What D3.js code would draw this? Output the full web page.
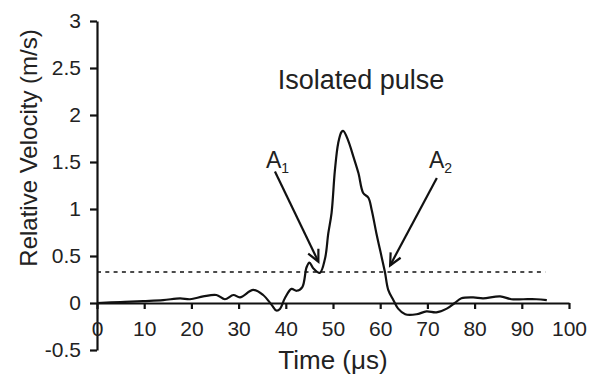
<!DOCTYPE html>
<html>
<head>
<meta charset="utf-8">
<script src="https://cdn.jsdelivr.net/npm/d3@7"></script>
<style>
  html, body { margin: 0; padding: 0; background: #fff; }
  svg { display: block; font-family: "Liberation Sans", Arial, Helvetica, sans-serif; }
</style>
</head>
<body>
<svg id="chart" width="589" height="375"></svg>
<script>
// ---- data ----
const timeUs = [0, 5, 9.8, 14, 17.6, 19.7, 22.5, 25.3, 27.1, 28.9, 30.3, 33.1, 35.2, 37, 38, 38.8, 39.8, 41.2, 42.3, 43.5, 44.4, 45.0, 45.8, 47.2, 48.3, 49.0, 49.7, 50.4, 51.1, 51.8, 52.2, 53.2, 54.3, 55.4, 56.4, 57.5, 58.2, 59.2, 60.3, 61.0, 61.7, 62.8, 63.8, 65.3, 67.7, 69.8, 71.9, 74.1, 75.8, 77.2, 79.7, 81.8, 85.4, 87.8, 90.3, 93.1, 95.3];
const velocity = [0, 0.01, 0.02, 0.03, 0.05, 0.04, 0.07, 0.085, 0.04, 0.085, 0.06, 0.14, 0.085, -0.02, -0.08, -0.06, 0.05, 0.15, 0.13, 0.17, 0.38, 0.43, 0.37, 0.32, 0.47, 0.74, 0.96, 1.41, 1.70, 1.82, 1.83, 1.73, 1.56, 1.38, 1.17, 1.12, 0.99, 0.74, 0.49, 0.33, 0.14, 0.03, -0.06, -0.12, -0.12, -0.09, -0.10, -0.06, 0, 0.05, 0.06, 0.05, 0.07, 0.04, 0.04, 0.04, 0.03];
const threshold = 0.33;
const thresholdRange = [0, 95];
const xTicks = [0, 10, 20, 30, 40, 50, 60, 70, 80, 90, 100];
const yTicks = [-0.5, 0, 0.5, 1, 1.5, 2, 2.5, 3];
const title = "Isolated pulse";
const xLabel = "Time (μs)";
const yLabel = "Relative Velocity (m/s)";
// annotations: label, sub, arrow start (t, v), arrow end (t, v)
const annLabels = ["A", "A"];
const annSubs = ["1", "2"];
const annStart = [[37.7, 1.40], [72.0, 1.33]];
const annEnd = [[46.9, 0.44], [62.1, 0.40]];

// ---- chart ----
const svg = d3.select("#chart");
const x = d3.scaleLinear().domain([0, 100]).range([97, 569]);
const y = d3.scaleLinear().domain([-0.5, 3]).range([350, 21]);
const ink = "#111";

// y axis
const yAxis = svg.append("g").attr("transform", `translate(${x(0)},0)`)
  .call(d3.axisLeft(y).tickValues(yTicks).tickSize(7).tickSizeOuter(0).tickPadding(9)
        .tickFormat(d => String(d)));
// x axis at y = 0
const xAxis = svg.append("g").attr("transform", `translate(0,${y(0)})`)
  .call(d3.axisBottom(x).tickValues(xTicks).tickSize(6).tickSizeOuter(0).tickPadding(8)
        .tickFormat(d => String(d)));
[yAxis, xAxis].forEach(g => {
  g.selectAll("path.domain").attr("stroke", ink).attr("stroke-width", 2.2);
  g.selectAll(".tick line").attr("stroke", ink).attr("stroke-width", 2.2);
  g.selectAll(".tick text").attr("fill", "#222").style("font-size", "21px")
    .style("font-family", "'Liberation Sans', Arial, sans-serif");
});
xAxis.selectAll(".tick text").attr("dy", "0.9em");

// dashed threshold line
svg.append("line")
  .attr("x1", x(thresholdRange[0])).attr("x2", x(thresholdRange[1]))
  .attr("y1", y(threshold)).attr("y2", y(threshold))
  .attr("stroke", ink).attr("stroke-width", 1.6).attr("stroke-dasharray", "4,4.3");

// data line
const pts = timeUs.map((t, i) => [t, velocity[i]]);
svg.append("path").datum(pts)
  .attr("fill", "none").attr("stroke", ink).attr("stroke-width", 2.2)
  .attr("stroke-linejoin", "round")
  .attr("d", d3.line().x(d => x(d[0])).y(d => y(d[1])).curve(d3.curveCatmullRom.alpha(0.5)));

// arrows
annStart.forEach((s, i) => {
  const e = annEnd[i];
  const x1 = x(s[0]), y1 = y(s[1]), x2 = x(e[0]), y2 = y(e[1]);
  svg.append("line").attr("x1", x1).attr("y1", y1).attr("x2", x2).attr("y2", y2)
    .attr("stroke", ink).attr("stroke-width", 2.2);
  const ang = Math.atan2(y2 - y1, x2 - x1);
  const L = 13, spread = 0.45;
  const p1 = [x2 - L * Math.cos(ang - spread), y2 - L * Math.sin(ang - spread)];
  const p2 = [x2 - L * Math.cos(ang + spread), y2 - L * Math.sin(ang + spread)];
  svg.append("path")
    .attr("d", `M${p1[0]},${p1[1]}L${x2},${y2}L${p2[0]},${p2[1]}`)
    .attr("fill", "none").attr("stroke", ink).attr("stroke-width", 2.2)
    .attr("stroke-linejoin", "miter");
  // label
  const t = svg.append("text")
    .attr("x", i === 0 ? 266 : 429).attr("y", 168)
    .attr("fill", "#222").style("font-size", "23px");
  t.append("tspan").text(annLabels[i]);
  t.append("tspan").text(annSubs[i]).attr("dy", 5).style("font-size", "14px");
});

// title
svg.append("text").attr("x", 361).attr("y", 89).attr("text-anchor", "middle")
  .attr("fill", "#222").style("font-size", "27px").text(title);

// axis titles
svg.append("text").attr("x", 333).attr("y", 369).attr("text-anchor", "middle")
  .attr("fill", "#222").style("font-size", "26px").text(xLabel);
svg.append("text").attr("transform", `translate(37,${148}) rotate(-90)`)
  .attr("text-anchor", "middle").attr("fill", "#222").style("font-size", "24px").text(yLabel);
</script>
</body>
</html>
